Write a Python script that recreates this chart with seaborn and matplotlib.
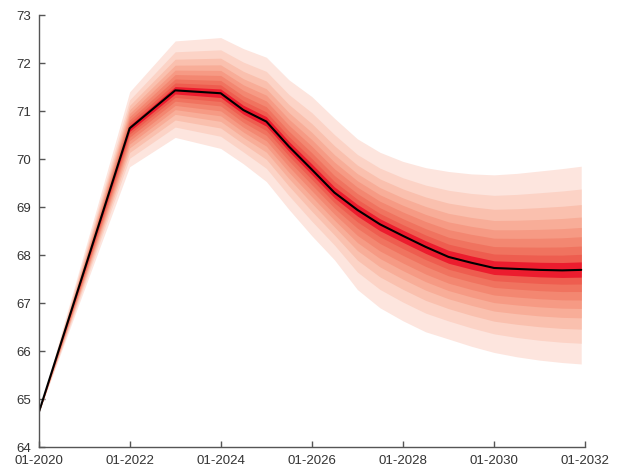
"""
Fan chart: central projection with 5-95 ... 45-55 percentile bands.
"""
import numpy as np
import pandas as pd
import matplotlib
matplotlib.use("Agg")
import matplotlib.pyplot as plt
import matplotlib.dates as mdates
import seaborn as sns

# --- data ---
dates = ["2020-01", "2022-01", "2023-01", "2024-01", "2024-07", "2025-01",
         "2025-07", "2026-01", "2026-07", "2027-01", "2027-07", "2028-01",
         "2028-07", "2029-01", "2029-07", "2030-01", "2030-07", "2031-01",
         "2031-07", "2031-12"]
central = [64.70, 70.64, 71.43, 71.37, 71.02, 70.78,
           70.26, 69.78, 69.30, 68.94, 68.64, 68.40,
           68.17, 67.96, 67.84, 67.73, 67.71, 67.69,
           67.68, 67.69]
upper_95 = [64.70, 71.40, 72.46, 72.53, 72.30, 72.12,
            71.65, 71.30, 70.85, 70.42, 70.14, 69.95,
            69.82, 69.74, 69.69, 69.67, 69.70, 69.75,
            69.80, 69.85]
lower_5 = [64.70, 69.84, 70.45, 70.22, 69.90, 69.53,
           68.95, 68.40, 67.90, 67.28, 66.90, 66.63,
           66.40, 66.25, 66.10, 65.97, 65.88, 65.81,
           65.76, 65.73]
# share of the 5-95 half-width reached by each band edge (5-95, 10-90, ... 45-55)
band_share = [1.0, 0.78, 0.63, 0.51, 0.41, 0.32, 0.23, 0.15, 0.077]
band_colors = ["#fde5de", "#fcd3c6", "#fac0ae", "#f8ad98", "#f69a84",
               "#f38771", "#f0735f", "#ee5d4f", "#ec1c2e"]
y_ticks = [64, 65, 66, 67, 68, 69, 70, 71, 72, 73]

df = pd.DataFrame({"date": pd.to_datetime(dates), "central": central,
                   "hi": upper_95, "lo": lower_5})

sns.set_theme(style="white")
plt.rcParams["font.family"] = ["Liberation Sans", "DejaVu Sans"]

fig = plt.figure(figsize=(6.19, 4.69), dpi=100)
ax = fig.add_axes([0.0622, 0.0469, 0.8830, 0.9211])

# bands, outermost first
for share, col in zip(band_share, band_colors):
    top = df["central"] + share * (df["hi"] - df["central"])
    bot = df["central"] - share * (df["central"] - df["lo"])
    ax.fill_between(df["date"], bot, top, color=col, lw=0)

sns.lineplot(data=df, x="date", y="central", color="black", lw=1.5, ax=ax)

ax.set_xlim(pd.Timestamp("2020-01-01"), pd.Timestamp("2032-01-01"))
ax.set_ylim(64, 73)
ax.set_yticks(y_ticks)
ax.xaxis.set_major_locator(mdates.YearLocator(2))
ax.xaxis.set_major_formatter(mdates.DateFormatter("%m-%Y"))
ax.set_xlabel("")
ax.set_ylabel("")

for s in ["top", "right"]:
    ax.spines[s].set_visible(False)
for s in ["left", "bottom"]:
    ax.spines[s].set_color("#555555")
    ax.spines[s].set_linewidth(1.0)
ax.tick_params(direction="in", length=4, width=1, colors="#555555",
               labelcolor="#333333", labelsize=9.5, left=True, bottom=True)
ax.tick_params(axis="x", pad=6)
ax.tick_params(axis="y", pad=5)

fig.savefig("out.png", dpi=100)
